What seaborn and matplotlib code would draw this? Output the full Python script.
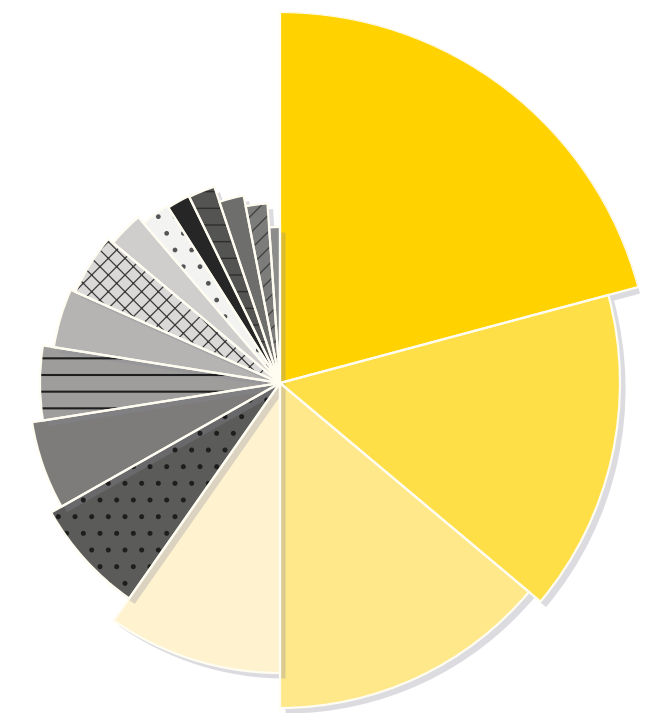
import numpy as np
import seaborn as sns
import matplotlib.pyplot as plt
import matplotlib.patheffects as pe

# slice shares (angular size) and lengths (radius), clockwise from 12 o'clock
shares = [75, 55, 50, 35, 25.5, 20.5, 18, 15, 16, 9.5, 8, 6.5, 7.5, 7.5, 7, 4]
lengths = [371, 340, 325, 290, 263, 251, 240, 229, 224, 218, 210, 208, 207, 191, 180, 156]
colors = ['#FFD200', '#FFDF48', '#FFE88A', '#FFF3CF',
          '#5B5B59', '#7D7C7A', '#9E9D9B', '#B5B4B2',
          '#DAD9D7', '#CFCECC', '#F3F3F1', '#262626',
          '#545453', '#6E6E6C', '#7C7C7A', '#8C8C8A']
hatches = [None, None, None, None,
           '.', None, '-', None,
           'xx', None, '.', None,
           '-', None, '//', None]
hatch_colors = ['k', 'k', 'k', 'k',
                '#1e1e1e', 'k', '#1e1e1e', 'k',
                '#3a3a3a', 'k', '#555555', 'k',
                '#2e2e2e', 'k', '#3e3e3e', 'k']
hatch_widths = [1, 1, 1, 1,
                1.2, 1, 1.5, 1,
                0.9, 1, 1.0, 1,
                1.0, 1, 0.9, 1]

sns.set_theme(style='white')

fig = plt.figure(figsize=(6.54, 7.13), dpi=100)
fig.patch.set_facecolor('white')

# centre of the fan at (280, 383) px from top-left, max radius 371 px
cx, cy, rmax = 280, 713 - 383, 371
ax = fig.add_axes([(cx - rmax) / 654, (cy - rmax) / 713, 2 * rmax / 654, 2 * rmax / 713],
                  projection='polar')
ax.set_theta_zero_location('N')
ax.set_theta_direction(-1)

total = sum(shares)
widths = np.array(shares) / total * 2 * np.pi
starts = np.concatenate([[0], np.cumsum(widths)[:-1]])

shadow = [pe.SimplePatchShadow(offset=(4, -4), shadow_rgbFace='#8a8a9a', alpha=0.3), pe.Normal()]

base = ax.bar(starts, lengths, width=widths, align='edge', color=colors,
              linewidth=0, zorder=2)
for b in base:
    b.set_path_effects(shadow)

for s, w, l, h, hc, hw in zip(starts, widths, lengths, hatches, hatch_colors, hatch_widths):
    if h:
        with plt.rc_context({'hatch.linewidth': hw}):
            ax.bar(s, l, width=w, align='edge', facecolor='none', edgecolor=hc,
                   hatch=h, linewidth=0, zorder=3)

ax.bar(starts, lengths, width=widths, align='edge', facecolor='none',
       edgecolor='#FFFDF2', linewidth=1.6, zorder=4)

ax.set_ylim(0, rmax)
ax.set_axis_off()

fig.savefig('out.png', dpi=100, facecolor='white')
